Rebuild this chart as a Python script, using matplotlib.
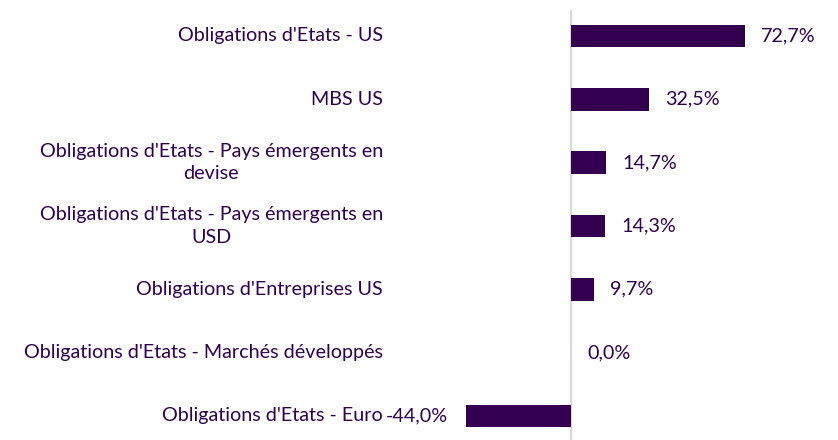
import matplotlib
matplotlib.use("Agg")
import matplotlib.pyplot as plt
import matplotlib.transforms as mtransforms

# Data
categories = [
    "Obligations d'Etats - US",
    "MBS US",
    "Obligations d'Etats - Pays émergents en\ndevise",
    "Obligations d'Etats - Pays émergents en\nUSD",
    "Obligations d'Entreprises US",
    "Obligations d'Etats - Marchés développés",
    "Obligations d'Etats - Euro",
]
values = [72.7, 32.5, 14.7, 14.3, 9.7, 0.0, -44.0]
value_labels = ["72,7%", "32,5%", "14,7%", "14,3%", "9,7%", "0,0%", "-44,0%"]

PURPLE = "#32004F"
plt.rcParams['font.family'] = ['Lato', 'DejaVu Sans']
FS = 14.2

W, H = 838, 440
fig = plt.figure(figsize=(W / 100, H / 100), dpi=100)
ax = fig.add_axes([0, 0, 1, 1 - 10 / H])

zero_px = 571
px_per_unit = 2.39
ax.set_xlim(-zero_px / px_per_unit, (W - zero_px) / px_per_unit)
ax.set_ylim(6.38, -0.41)

ypos = list(range(len(categories)))
ax.barh(ypos, values, height=0.36, color=PURPLE, linewidth=0, zorder=3)
ax.axvline(0, color="#D9D9D9", lw=1.6, zorder=2)

label_trans = mtransforms.blended_transform_factory(fig.transFigure, ax.transData)
for y, cat in zip(ypos, categories):
    ax.text(383 / W, y, cat, transform=label_trans, ha="right", va="center",
            multialignment="center", fontsize=FS, color=PURPLE, linespacing=1.4)

for y, v, lab in zip(ypos, values, value_labels):
    if v >= 0:
        ax.annotate(lab, (v, y), xytext=(11.5, 0), textcoords="offset points",
                    ha="left", va="center", fontsize=FS, color=PURPLE)
    else:
        ax.annotate(lab, (v, y), xytext=(-13, 0), textcoords="offset points",
                    ha="right", va="center", fontsize=FS, color=PURPLE)

ax.axis("off")
fig.savefig("out.png", dpi=100)
